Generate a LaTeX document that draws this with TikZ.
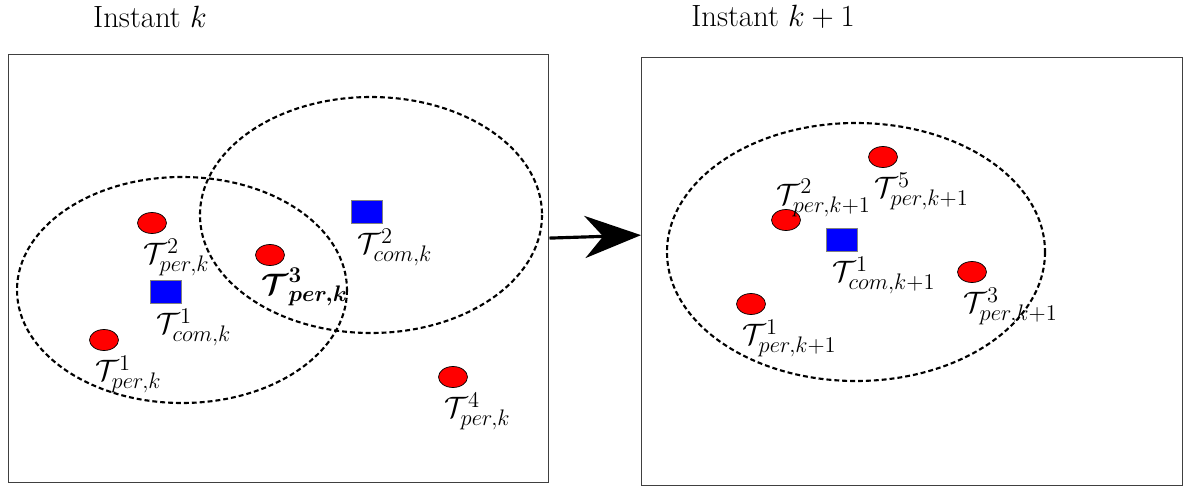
\documentclass[tikz,border=0pt]{standalone}
\usepackage{fix-cm}
\usepackage{bm}
\DeclareMathSizes{17.5}{17.5}{13.5}{10.5}
\DeclareMathSizes{16.8}{16.8}{12.8}{10}
\usetikzlibrary{shapes.geometric,arrows.meta,positioning}

\begin{document}
\begin{tikzpicture}[
    x=0.02cm, y=-0.02cm,
    framebox/.style={draw=black!75, line width=0.6pt, minimum width=10.82cm,
                  minimum height=8.58cm},
    pertarget/.style={draw=black, ellipse, fill=red, inner sep=0pt,
                   minimum width=0.58cm, minimum height=0.42cm},
    comtarget/.style={draw=black!50, fill=blue, inner sep=0pt,
                    minimum width=0.62cm, minimum height=0.46cm},
    lbl/.style={inner sep=0pt, anchor=north west, xshift=3.5pt, yshift=-2.5pt,
                font=\fontsize{16.8}{20}\selectfont},
    heading/.style={font=\fontsize{17.5}{21}\selectfont},
    zone/.style={draw, line width=1.2pt, dash pattern=on 2.8pt off 1.7pt},
    arr/.style={-{Stealth[length=32pt,width=24pt]}, line width=1.8pt}
  ]
    \useasboundingbox (0,0) rectangle (1189,490);

    \node[framebox] (framek)  at (278.5,268.5) {};
    \node[framebox] (framekk) at (912,271.5) {};
    \node[heading] (headk)  at (150,17) {Instant $k$};
    \node[heading] (headkk) at (773,17) {Instant $k+1$};

    \draw[zone] (182,290) ellipse [x radius=165, y radius=113];
    \draw[zone] (371,215) ellipse [x radius=171, y radius=118];
    \draw[zone] (856,252) ellipse [x radius=189, y radius=129];

    \node[pertarget] (pk1) at (104,340) {};
    \node[pertarget] (pk2) at (152,223) {};
    \node[pertarget] (pk3) at (270,255) {};
    \node[pertarget] (pk4) at (453,377) {};
    \node[comtarget] (ck1) at (166,292) {};
    \node[comtarget] (ck2) at (367,212) {};

    \node[lbl] (pk1l) at (pk1.west |- pk1.south) {$\mathcal{T}^1_{per,k}$};
    \node[lbl] (pk2l) at (pk2.west |- pk2.south) {$\mathcal{T}^2_{per,k}$};
    \node[lbl, yshift=1.5pt] (pk3l) at (pk3.west |- pk3.south) {$\bm{\mathcal{T}^3_{per,k}}$};
    \node[lbl] (pk4l) at (pk4.west |- pk4.south) {$\mathcal{T}^4_{per,k}$};
    \node[lbl] (ck1l) at (ck1.south west) {$\mathcal{T}^1_{com,k}$};
    \node[lbl] (ck2l) at (ck2.south west) {$\mathcal{T}^2_{com,k}$};

    \node[pertarget] (pkk1) at (751,304) {};
    \node[pertarget] (pkk2) at (786,220) {};
    \node[pertarget] (pkk3) at (972,272) {};
    \node[pertarget] (pkk5) at (883,157) {};
    \node[comtarget] (ckk1) at (842,240) {};

    \node[lbl] (pkk1l) at (pkk1.west |- pkk1.south) {$\mathcal{T}^1_{per,k+1}$};
    \node[lbl, anchor=south west, xshift=-0.5pt, yshift=-2pt] (pkk2l)
        at (pkk2.west |- pkk2.north) {$\mathcal{T}^2_{per,k+1}$};
    \node[lbl] (pkk3l) at (pkk3.west |- pkk3.south) {$\mathcal{T}^3_{per,k+1}$};
    \node[lbl] (pkk5l) at (pkk5.west |- pkk5.south) {$\mathcal{T}^5_{per,k+1}$};
    \node[lbl] (ckk1l) at (ckk1.south west) {$\mathcal{T}^1_{com,k+1}$};

    \draw[arr] ([yshift=17.3pt]framek.east) -- ([yshift=20.7pt]framekk.west);
  \end{tikzpicture}
\end{document}
